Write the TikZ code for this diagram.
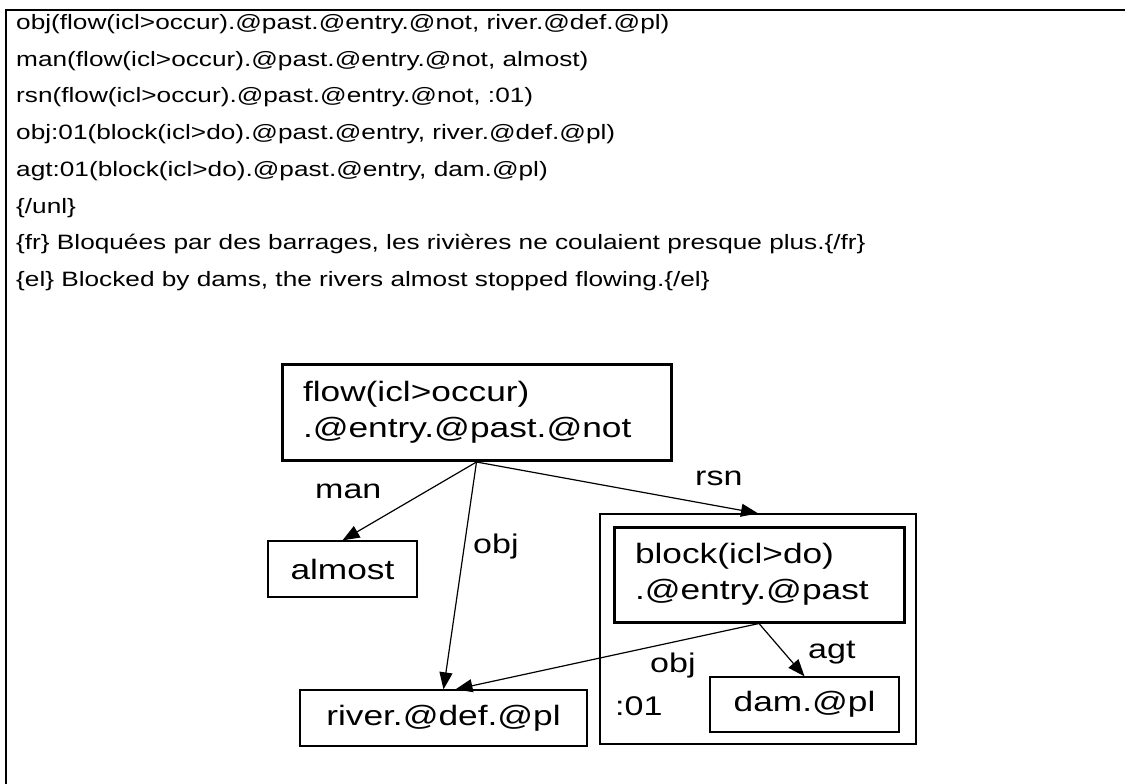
\documentclass[tikz,border=0pt]{standalone}
\usepackage{fontspec}
\setmainfont{Liberation Sans}
\newfontfamily\unlfont[FakeStretch=1.26]{Liberation Sans}
\usetikzlibrary{arrows.meta}

\begin{document}
\begin{tikzpicture}
			[x=1pt, y=-1pt,
			unlline/.style={font=\unlfont\fontsize{20.8}{24}\selectfont, anchor=base west, inner sep=0pt},
			uw/.style={draw, line width=1.3pt, inner sep=0pt, font=\unlfont\fontsize{28}{36}\selectfont},
			entry/.style={uw, line width=3pt, align=left, inner xsep=21pt, inner ysep=0pt},
			rel/.style={font=\unlfont\fontsize{27}{32}\selectfont, anchor=base west, inner sep=0pt},
			>={Triangle[length=17pt,width=13pt]}]
			\useasboundingbox (0,0) rectangle (1125,784);
			\coordinate (frameR) at (1125,10);
			\coordinate (frameC) at (6,10);
			\coordinate (frameB) at (6,784);
			\draw[line width=2pt] (frameR) -- (frameC) -- (frameB);
			\node (rel1) [unlline] at (16,29.5) {obj(flow(icl>occur).@past.@entry.@not, river.@def.@pl)};
			\node (rel2) [unlline] at (16,66.2) {man(flow(icl>occur).@past.@entry.@not, almost)};
			\node (rel3) [unlline] at (16,102.9) {rsn(flow(icl>occur).@past.@entry.@not, :01)};
			\node (rel4) [unlline] at (16,139.6) {obj:01(block(icl>do).@past.@entry, river.@def.@pl)};
			\node (rel5) [unlline] at (16,176.3) {agt:01(block(icl>do).@past.@entry, dam.@pl)};
			\node (unlend) [unlline] at (16,213) {\{/unl\}};
			\node (frline) [unlline] at (16,249.7) {\{fr\} Bloquées par des barrages, les rivières ne coulaient presque plus.\{/fr\}};
			\node (elline) [unlline] at (16,286.4) {\{el\} Blocked by dams, the rivers almost stopped flowing.\{/el\}};
			\node (cluster) [uw, minimum width=316pt, minimum height=230pt] at (758,629) {};
			\node (flow) [entry, text width=347pt, minimum height=96pt] at (476.5,412.5) {flow(icl>occur)\\.@entry.@past.@not};
			\node (block) [entry, text width=248pt, minimum height=95pt] at (759,574.5) {block(icl>do)\\.@entry.@past};
			\node (almost) [uw, minimum width=149pt, minimum height=56pt] at (342.5,569) {almost};
			\node (river) [uw, minimum width=287pt, minimum height=56pt] at (443.5,718) {river.@def.@pl};
			\node (dam) [uw, minimum width=189pt, minimum height=55pt] at (804.5,704.5) {dam.@pl};
			\node (lbl01) [rel] at (615,715) {:01};
			\draw[->, line width=1.2pt] (flow.south) -- (almost.north);
			\draw[->, line width=1.2pt] (flow.south) -- (river.north);
			\draw[->, line width=1.2pt] (flow.south) -- (cluster.north);
			\draw[->, line width=1.2pt] (block.south) -- ([xshift=12pt]river.north);
			\draw[->, line width=1.2pt] (block.south) -- (dam.north);
			\node (lman) [rel] at (315,498) {man};
			\node (lobj) [rel] at (473,553) {obj};
			\node (lrsn) [rel] at (695,485) {rsn};
			\node (lobjb) [rel] at (650,672) {obj};
			\node (lagt) [rel] at (808,658) {agt};
		\end{tikzpicture}
\end{document}
